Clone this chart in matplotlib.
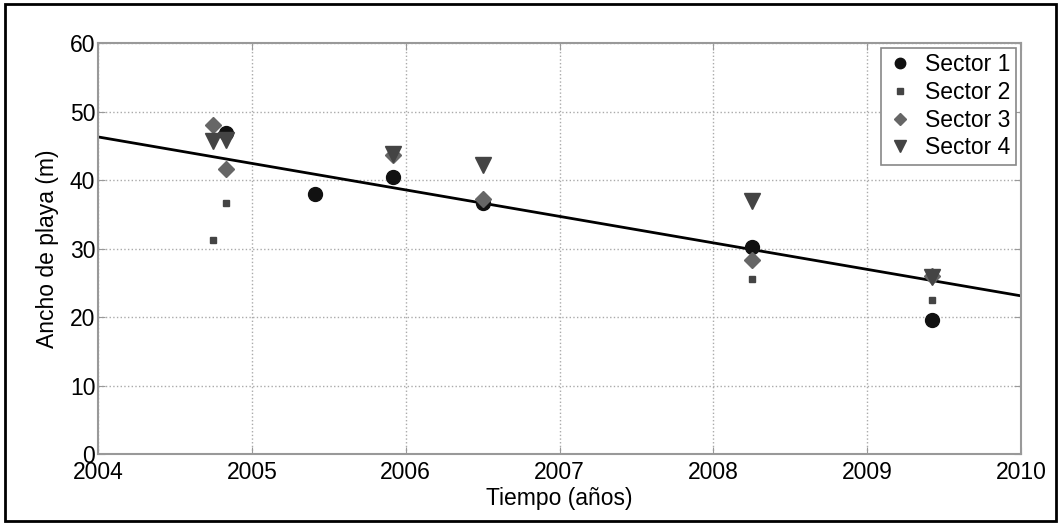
import matplotlib.pyplot as plt
import numpy as np

# beach width per sector
s1_x = [2004.83, 2005.41, 2005.92, 2006.50, 2008.25, 2009.42]
s1_y = [46.8, 38.0, 40.4, 36.7, 30.2, 19.6]
s2_x = [2004.75, 2004.83, 2005.92, 2006.50, 2008.25, 2009.42]
s2_y = [31.3, 36.6, 43.5, 37.0, 25.5, 22.5]
s3_x = [2004.75, 2004.83, 2005.92, 2006.50, 2008.25, 2009.42]
s3_y = [48.0, 41.6, 43.6, 37.3, 28.3, 26.0]
s4_x = [2004.75, 2004.83, 2005.92, 2006.50, 2008.25, 2009.42]
s4_y = [45.7, 45.8, 43.8, 42.2, 37.0, 25.8]

trend_x = [2004, 2010]
trend_y = [46.3, 23.1]

plt.rcParams["font.family"] = ["Liberation Sans", "DejaVu Sans"]

fig = plt.figure(figsize=(10.61, 5.25), dpi=100)
ax = fig.add_axes([0.0924, 0.135, 0.8699, 0.783])

ax.plot(trend_x, trend_y, color="black", lw=2, zorder=2)
ax.plot(s1_x, s1_y, "o", color="#111111", ms=10, ls="none", label="Sector 1", zorder=3)
ax.plot(s2_x, s2_y, "s", color="#444444", ms=5, ls="none", label="Sector 2", zorder=3)
ax.plot(s3_x, s3_y, "D", color="#666666", ms=8, ls="none", label="Sector 3", zorder=3)
ax.plot(s4_x, s4_y, "v", color="#444444", ms=11, ls="none", label="Sector 4", zorder=3)

ax.set_xlim(2004, 2010)
ax.set_ylim(0, 60)
ax.set_xticks(np.arange(2004, 2011, 1))
ax.set_yticks(np.arange(0, 61, 10))
ax.grid(True, linestyle=":", color="#aaaaaa", lw=1)
ax.tick_params(direction="in", top=True, right=True, color="#999999",
               length=5, labelsize=16.5)
ax.tick_params(axis="x", pad=5)
ax.tick_params(axis="y", pad=2)
for s in ax.spines.values():
    s.set_color("#999999")
    s.set_linewidth(1.5)

ax.set_xlabel("Tiempo (años)", fontsize=16.5, labelpad=2)
ax.set_ylabel("Ancho de playa (m)", fontsize=16.5, labelpad=8)

leg = ax.legend(loc="upper right", fontsize=16.5, fancybox=False, edgecolor="#888888",
                framealpha=1, handlelength=1.2, handletextpad=0.5, borderpad=0.25,
                labelspacing=0.2, borderaxespad=0.2, markerscale=0.75)
leg.get_frame().set_linewidth(1.2)

# outer black border
fig.patches.append(plt.Rectangle((0.005, 0.008), 0.99, 0.984, transform=fig.transFigure,
                                 fill=False, edgecolor="black", lw=2))

fig.savefig("out.png", dpi=100)
